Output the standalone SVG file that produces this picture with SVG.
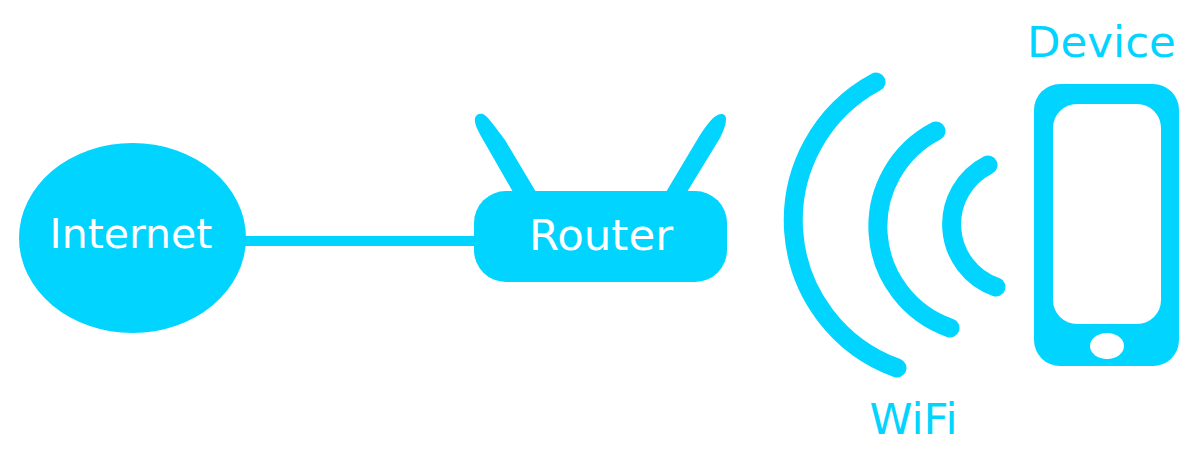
<svg xmlns="http://www.w3.org/2000/svg" width="1200" height="450" viewBox="0 0 1200 450">
<style>
.f{fill:#00d4ff}
.a{fill:none;stroke:#00d4ff;stroke-width:19;stroke-linecap:round}
text{font-family:"DejaVu Sans",sans-serif;font-size:43.500px;text-anchor:middle}
.w{fill:#fff}
</style>
<rect width="1200" height="450" fill="#fff"/>
<g id="connectors"><rect class="f" x="240" y="236" width="240" height="10"/></g>
<g id="internet"><ellipse class="f" cx="132.500" cy="238" rx="113.500" ry="95"/><text class="w" x="131" y="248" style="font-size:41px">Internet</text></g>
<g id="router">
<path class="f" d="M513 192L482 138C478 130 474 124 475 118C476 114 480 113 483 114C487 116 491 121 505 140L536 192Z"/>
<path class="f" d="M666 192L700 135C706 126 712 118 716 116C720 113 726 113 726 119C726 125 723 132 720 138L687 192Z"/>
<rect class="f" x="474" y="191" width="253" height="91" rx="32" ry="32"/>
<text class="w" x="601" y="250">Router</text></g>
<g id="wifi">
<path class="a" d="M876 82A157 157 0 0 0 897 368"/>
<path class="a" d="M936 131A107.500 107.500 0 0 0 950 328"/>
<path class="a" d="M988 165A66.500 66.500 0 0 0 996 287"/>
<text class="f" x="913.500" y="434">WiFi</text></g>
<g id="device">
<rect class="f" x="1034" y="84" width="145" height="282" rx="26"/>
<rect class="w" x="1053" y="104" width="108" height="220" rx="24"/>
<ellipse class="w" cx="1107" cy="346" rx="17" ry="13"/>
<text class="f" x="1101.500" y="57">Device</text></g>
</svg>
